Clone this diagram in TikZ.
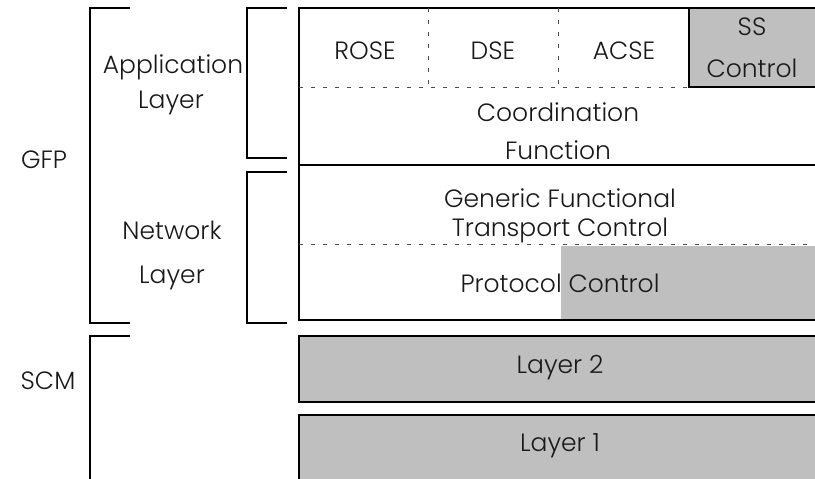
\documentclass[tikz,border=0pt]{standalone}
\usepackage{fontspec}
\setmainfont{Poppins Light}
\begin{document}
\begin{tikzpicture}
  [x=1pt, y=-1pt,
  box/.style={draw, line width=1.3pt},
  shaded/.style={box, fill=black!25},
  divider/.style={dash pattern=on 4pt off 8pt, line width=0.8pt, black!70},
  bracket/.style={line width=1.3pt},
  lbl/.style={font=\fontsize{25}{30}\selectfont, text=black!90, inner sep=0pt}]

  \useasboundingbox (0,0) rectangle (815,479);
  \clip (0,0) rectangle (815,479);

  % GFP stack
  \draw[box] (299,8) rectangle (830,165);
  \fill[black!25] (561,246) rectangle (830,320);
  \draw[box] (299,165) rectangle (830,320);
  \draw[shaded] (689,8) rectangle (830,87);

  % dotted separators
  \draw[divider] (299,87) -- (689,87);
  \draw[divider] (428,8) -- (428,87);
  \draw[divider] (558,8) -- (558,87);
  \draw[divider] (299,244) -- (830,244);

  % SCM stack
  \draw[shaded] (299,336) rectangle (830,402);
  \draw[shaded] (299,415) rectangle (830,500);

  % brackets
  \draw[bracket] (130,8) -| (90,323) -- (130,323);
  \draw[bracket] (130,336) -| (90,490);
  \draw[bracket] (287,8) -| (247,158) -- (287,158);
  \draw[bracket] (287,172) -| (247,323) -- (287,323);

  % labels
  \node[lbl] (rose) at (365,51) {ROSE};
  \node[lbl] (dse) at (493,51) {DSE};
  \node[lbl] (acse) at (624,51) {ACSE};
  \node[lbl] (ss) at (752,27) {SS};
  \node[lbl] (ssctl) at (752,68) {Control};
  \node[lbl] (coord) at (558,112) {Coordination};
  \node[lbl] (func) at (558,150) {Function};
  \node[lbl] (generic) at (560,198) {Generic Functional};
  \node[lbl] (transport) at (560,230) {Transport Control};
  \node[lbl] (protocol) at (560,283) {Protocol Control};
  \node[lbl] (layer2) at (560,368) {Layer 2};
  \node[lbl] (layer1) at (560,446) {Layer 1};
  \node[lbl] (app) at (173,67) {Application};
  \node[lbl] (applayer) at (171,103) {Layer};
  \node[lbl] (net) at (172,230) {Network};
  \node[lbl] (netlayer) at (172,278) {Layer};
  \node[lbl] (gfp) at (44,160) {GFP};
  \node[lbl] (scm) at (48,381) {SCM};
\end{tikzpicture}
\end{document}
